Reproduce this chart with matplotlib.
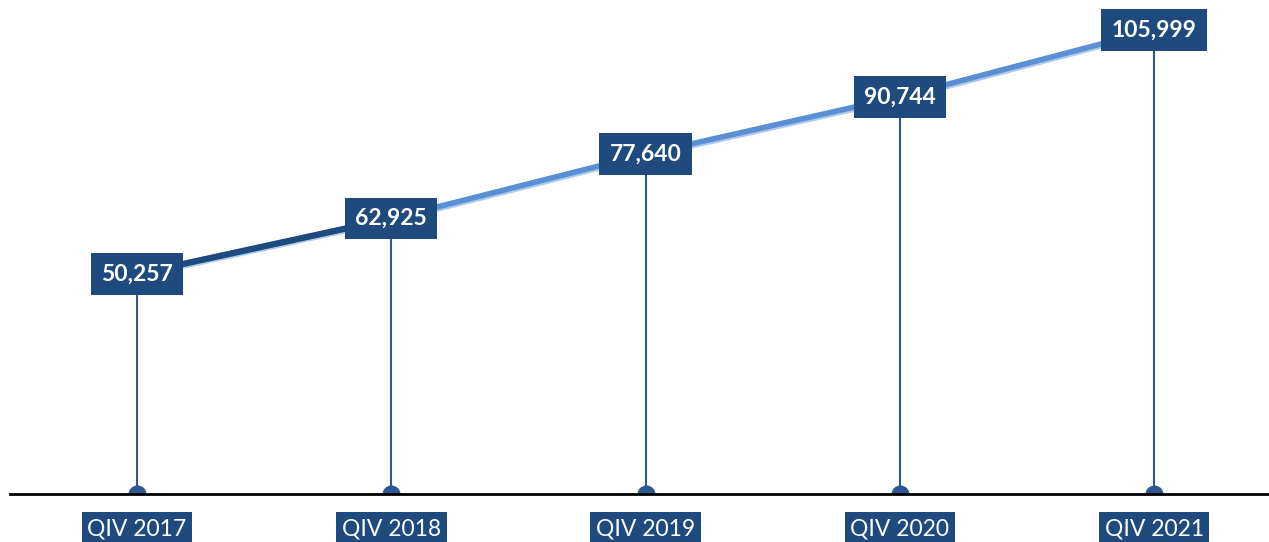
import matplotlib
matplotlib.use("Agg")
import matplotlib.pyplot as plt
import matplotlib.patheffects as pe

# data
quarters = ["QIV 2017", "QIV 2018", "QIV 2019", "QIV 2020", "QIV 2021"]
totals = [50257, 62925, 77640, 90744, 105999]

box_blue = "#1F4A7E"
line_blue = "#5A8FD3"
stem_blue = "#2E5690"

fig = plt.figure(figsize=(12.69, 5.42), dpi=100)
# axes start a bit in from the left edge, baseline at y=0
ax = fig.add_axes([10 / 1269, 48 / 542, 1 - 10 / 1269, 494 / 542])
xs = list(range(len(quarters)))

ax.set_xlim(-0.4995, 4.452)
ax.set_ylim(0, 112860)
ax.axis("off")

# drop lines from each value down to the baseline
ax.vlines(xs, 0, totals, color=stem_blue, lw=1.5, zorder=2)

# main trend line, first segment darker like the original
ax.plot(xs, totals, color=line_blue, lw=4, solid_capstyle="butt", zorder=3,
        path_effects=[pe.SimpleLineShadow(offset=(0, -1.5), shadow_color="#9DBDE6", alpha=0.8),
                      pe.Normal()])
ax.plot(xs[:2], totals[:2], color=box_blue, lw=4.5, solid_capstyle="butt", zorder=3.5)

# half-dot markers sitting on the baseline (lower half clipped by axes)
ax.plot(xs, [0] * len(xs), "o", color=stem_blue, ms=12, zorder=4, clip_on=True)

# baseline
ax.axhline(0, color="black", lw=2, zorder=5, clip_on=False)

# value labels
for x, v in zip(xs, totals):
    ax.text(x, v, f"{v:,}", ha="center", va="center", color="white",
            fontsize=16.5, fontweight="bold", family="Lato", zorder=6,
            bbox=dict(boxstyle="square,pad=0.45", fc=box_blue, ec="none"))

# category labels under the baseline
for x, q in zip(xs, quarters):
    ax.text(x, -0.07, q, transform=ax.get_xaxis_transform(), ha="center",
            va="center", color="white", fontsize=16.5, family="Lato",
            clip_on=False, zorder=6,
            bbox=dict(boxstyle="square,pad=0.25", fc=box_blue, ec="none"))

fig.savefig("out.png", dpi=100)
